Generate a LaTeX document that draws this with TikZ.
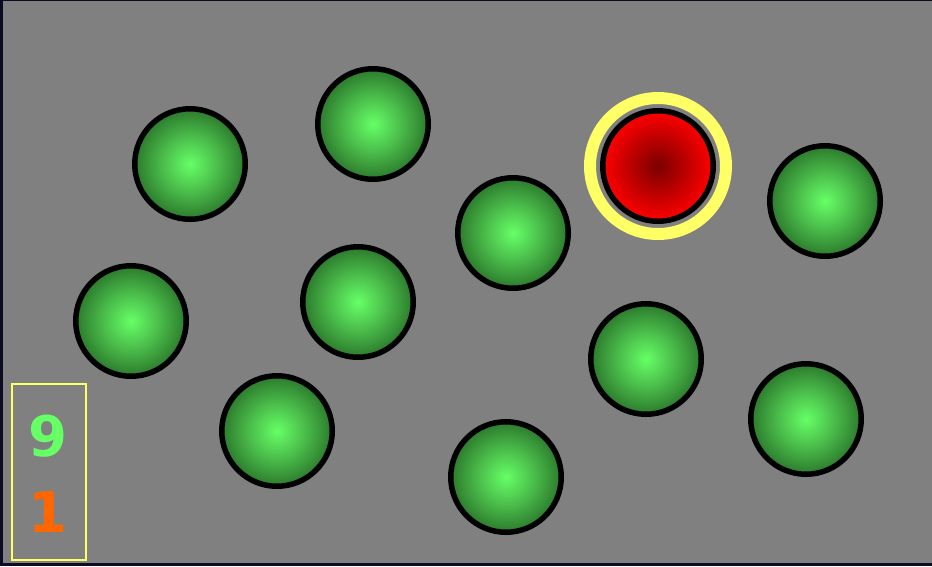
\documentclass[tikz,border=0pt]{standalone}
\usepackage{fontspec}
\newfontfamily\numfont{DejaVu Sans}
\usetikzlibrary{positioning}
\definecolor{frameblue}{HTML}{0B0B24}
\definecolor{board}{HTML}{808080}
\definecolor{ballhi}{HTML}{66FF66}
\definecolor{ballmid}{HTML}{4CC04C}
\definecolor{balllo}{HTML}{2C7A2C}
\definecolor{hithi}{HTML}{FF0000}
\definecolor{hitlo}{HTML}{7A0000}
\definecolor{halo}{HTML}{FFFF66}
\definecolor{countg}{HTML}{66FF66}
\definecolor{counto}{HTML}{FF6600}
\pgfdeclareradialshading{greenball}{\pgfpoint{0bp}{0bp}}{%
  color(0bp)=(ballhi); color(12bp)=(ballmid);
  color(25bp)=(balllo); color(50bp)=(balllo)}
\tikzset{
  ball/.style   ={circle, draw=black, line width=5.5pt, inner sep=0pt,
                  minimum size=110.5pt, shading=greenball},
  target/.style ={circle, draw=black, line width=5.5pt, inner sep=0pt,
                  minimum size=110.5pt, inner color=hitlo, outer color=hithi},
  ring/.style   ={draw=halo, line width=12pt},
  tally/.style  ={draw=halo, line width=1.5pt, inner sep=0pt,
                  minimum width=74pt, minimum height=176pt},
  digit/.style  ={font=\numfont\bfseries\fontsize{56}{56}\selectfont,
                  inner sep=0pt, anchor=base}
}

\begin{document}
\begin{tikzpicture}[x=1pt,y=-1pt]
  \useasboundingbox (0,0) rectangle (932,566);
  \fill[frameblue] (0,0) rectangle (932,566);
  \fill[board] (3,1) rectangle (932,563);

  % green balls
  \foreach \nm/\px/\py in {b1/190/164, b2/373/124, b3/513/233, b4/825/201,
                           b5/131/321, b6/358/302, b7/646/359, b8/277/431,
                           b9/506/477, b10/806/419}
    \node[ball] (\nm) at (\px,\py) {};

  % the red one
  \node[target] (hit) at (658,166) {};
  \draw[ring] (hit.center) circle (68pt);

  % counter box
  \node[tally] (count) at (49,472) {};
  \node[digit, text=countg] (good) at (48,456) {9};
  \node[digit, text=counto] (bad) at (48,532) {1};
\end{tikzpicture}
\end{document}
